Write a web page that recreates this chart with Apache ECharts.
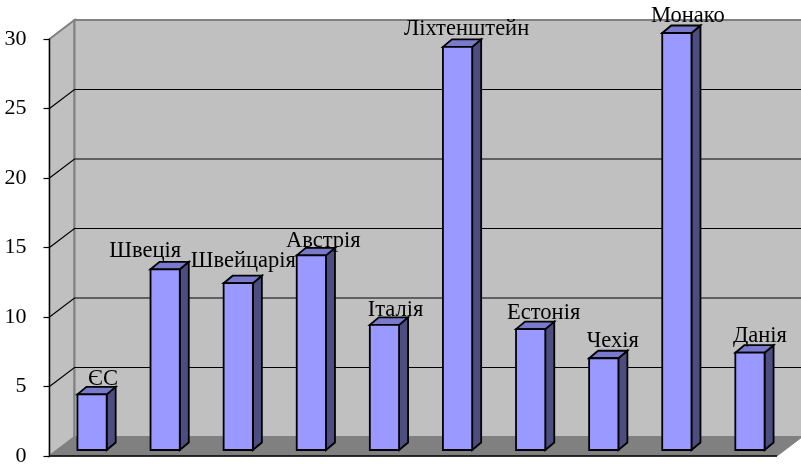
<!DOCTYPE html>
<html><head><meta charset="utf-8">
<style>html,body{margin:0;padding:0;background:#fff}#c{width:801px;height:464px}</style>
<script src="https://cdn.jsdelivr.net/npm/echarts@6/dist/echarts.min.js"></script>
</head><body><div id="c"></div>
<script>
const categories = ['ЄС','Швеція','Швейцарія','Австрія','Італія','Ліхтенштейн','Естонія','Чехія','Монако','Данія'];
const values = [4,13,12,14,9,29,8.7,6.6,30,7];
const tickValues = [0,5,10,15,20,25,30];
// label nudges (px) relative to the bar's top, style only
const labelDx = [11,-20,5,12,11,9,13,9,11,10];
const labelDy = [-8,-11,-15,-7,-7,-10,-8,-10,-9,-9];

const FONT = '"Liberation Serif","Times New Roman",serif';
const WALL = {dx:25, dy:19, trim:3.5};
const BAR = {shiftX:6, shiftY:6, dx:9, dy:7.5};

const chart = echarts.init(document.getElementById('c'), null, {renderer:'canvas'});

function renderWalls(params, api){
  const cs = params.coordSys;
  const l = cs.x, r = cs.x+cs.width-WALL.trim, t = cs.y, b = cs.y+cs.height;
  const d = WALL;
  const wallStyle = {fill:'#c0c0c0', stroke:'#808080', lineWidth:2};
  return {type:'group', children:[
    {type:'polygon', shape:{points:[[l,t],[l+d.dx,t-d.dy],[l+d.dx,b-d.dy],[l,b]]}, style:wallStyle},
    {type:'polygon', shape:{points:[[l+d.dx,t-d.dy],[r+d.dx,t-d.dy],[r+d.dx,b-d.dy],[l+d.dx,b-d.dy]]}, style:wallStyle},
    {type:'polygon', shape:{points:[[l,b],[l+d.dx,b-d.dy],[r+d.dx,b-d.dy],[r,b]]}, style:{fill:'#808080', stroke:'#808080', lineWidth:1}},
    {type:'line', shape:{x1:l,y1:b,x2:r,y2:b}, style:{stroke:'#000', lineWidth:1.5}}
  ]};
}
function renderGrid(params, api){
  const cs = params.coordSys, d = WALL;
  const y = api.coord([0, api.value(1)])[1];
  const l = cs.x, r = cs.x+cs.width-d.trim;
  const st = {stroke:'#000', lineWidth:1.2, fill:null};
  return {type:'polyline', shape:{points:[[l,y],[l+d.dx,y-d.dy],[r+d.dx,y-d.dy]]}, style:st};
}
function renderBar(params, api){
  const idx = api.value(0), v = api.value(1);
  const top = api.coord([idx,v]), base = api.coord([idx,0]);
  const w = api.size([1,0])[0]*0.4;
  const x0 = top[0]-w/2+BAR.shiftX, x1 = x0+w;
  const yT = top[1]-BAR.shiftY, yB = base[1]-BAR.shiftY;
  const dx = BAR.dx, dy = BAR.dy;
  const edge = {stroke:'#000', lineWidth:1.8, lineJoin:'miter'};
  return {type:'group', children:[
    {type:'polygon', shape:{points:[[x1,yT],[x1+dx,yT-dy],[x1+dx,yB-dy],[x1,yB]]}, style:Object.assign({fill:'#4d4d80'},edge)},
    {type:'polygon', shape:{points:[[x0,yT],[x0+dx,yT-dy],[x1+dx,yT-dy],[x1,yT]]}, style:Object.assign({fill:'#7a7acc'},edge)},
    {type:'rect', shape:{x:x0,y:yT,width:w,height:yB-yT}, style:Object.assign({fill:'#9999ff'},edge)}
  ]};
}
function renderLabel(params, api){
  const idx = api.value(0), v = api.value(1);
  const top = api.coord([idx,v]);
  return {type:'text', x:top[0]+BAR.shiftX+labelDx[idx], y:top[1]-BAR.shiftY-BAR.dy+labelDy[idx],
    style:{text:categories[idx], font:'22.5px '+FONT, fill:'#000', align:'center', verticalAlign:'middle'}};
}
const barData = values.map((v,i)=>[i,v]);
chart.setOption({
  animation:false,
  backgroundColor:'#fff',
  grid:{left:49.5, right:20.5, top:39, bottom:8, outerBoundsMode:'none', containLabel:false},
  xAxis:{type:'category', data:categories, z:6,
    axisLine:{show:false}, axisTick:{show:false}, axisLabel:{show:false}, splitLine:{show:false}},
  yAxis:{type:'value', min:0, max:30, interval:5, z:6,
    axisLine:{show:true,lineStyle:{color:'#000',width:1.2}}, axisTick:{show:true,length:6,lineStyle:{color:'#000',width:1.2}},
    axisLabel:{fontFamily:FONT,fontSize:22,color:'#000',margin:23}, splitLine:{show:false}},
  series:[
    {type:'custom', z:1, clip:false, silent:true, renderItem:renderWalls, data:[[0,0]], encode:{x:0,y:1}},
    {type:'custom', z:2, clip:false, silent:true, renderItem:renderGrid, data:tickValues.slice(1,-1).map(t=>[0,t]), encode:{x:0,y:1}},
    {type:'custom', z:3, clip:false, renderItem:renderBar, data:barData, encode:{x:0,y:1}},
    {type:'custom', z:4, clip:false, renderItem:renderLabel, data:barData, encode:{x:0,y:1}}
  ]
});
</script></body></html>
